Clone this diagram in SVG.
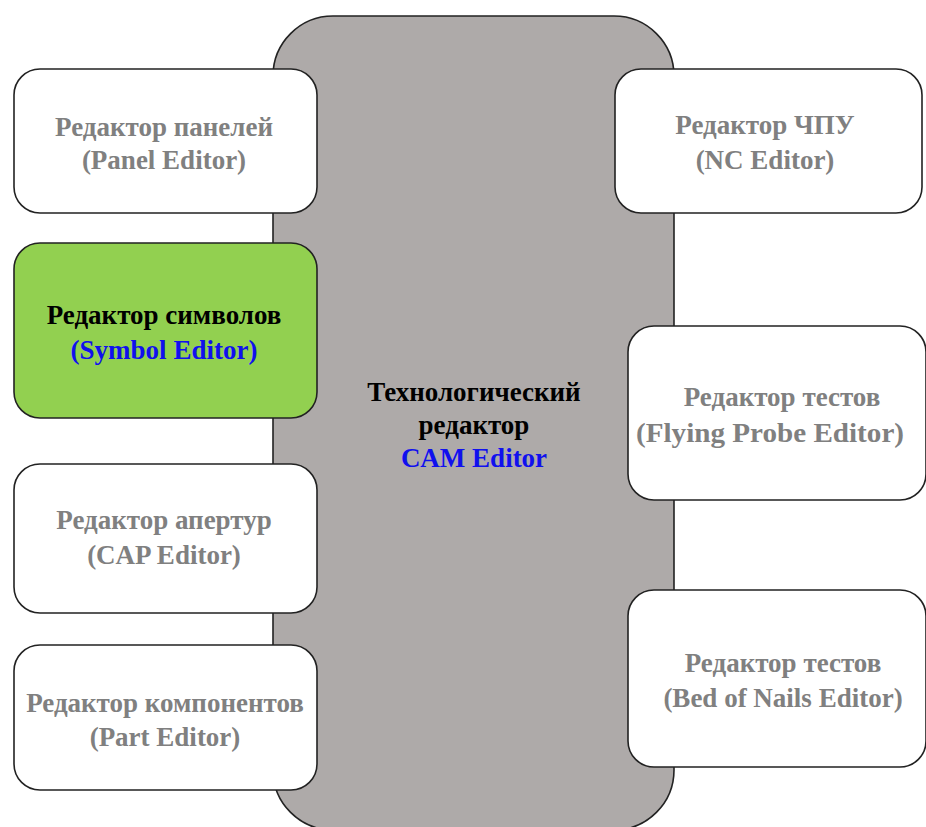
<svg xmlns="http://www.w3.org/2000/svg" width="926" height="827" viewBox="0 0 926 827">
<style>
.box{fill:#ffffff;stroke:#222;stroke-width:1.6}
.green{fill:#92d050}
.main{fill:#aeaaa9;stroke:#222;stroke-width:1.6}
text{font-family:"Liberation Serif","Times New Roman",serif;font-weight:bold;font-size:27px;text-anchor:middle}
.g{fill:#808080}
.k{fill:#000}
.b{fill:#1010ee}
</style>
<rect width="926" height="827" fill="#fff"/>
<g id="cam">
<rect class="main" x="273" y="16" width="401" height="814" rx="60" ry="60"/>
<text class="k" x="474" y="401">Технологический</text>
<text class="k" x="474" y="434">редактор</text>
<text class="b" x="474" y="467">CAM Editor</text>
</g>
<g id="connectors"></g>
<g id="panel">
<rect class="box" x="14" y="69" width="303" height="144" rx="26"/>
<text class="g" x="164" y="136">Редактор панелей</text>
<text class="g" x="164" y="169">(Panel Editor)</text>
</g>
<g id="symbol">
<rect class="box green" x="14" y="243" width="303" height="175" rx="26"/>
<text class="k" x="164" y="324">Редактор символов</text>
<text class="b" x="164" y="359">(Symbol Editor)</text>
</g>
<g id="cap">
<rect class="box" x="14" y="464" width="303" height="149" rx="26"/>
<text class="g" x="164" y="529">Редактор апертур</text>
<text class="g" x="164" y="564">(CAP Editor)</text>
</g>
<g id="part">
<rect class="box" x="14" y="645" width="303" height="145" rx="26"/>
<text class="g" x="165" y="712">Редактор компонентов</text>
<text class="g" x="165" y="746">(Part Editor)</text>
</g>
<g id="nc">
<rect class="box" x="615" y="69" width="307" height="144" rx="26"/>
<text class="g" x="765" y="134">Редактор ЧПУ</text>
<text class="g" x="765" y="169">(NC Editor)</text>
</g>
<g id="flying">
<rect class="box" x="628" y="326" width="298" height="174" rx="26"/>
<text class="g" x="782" y="406">Редактор тестов</text>
<text class="g" x="770" y="442" textLength="268" lengthAdjust="spacingAndGlyphs">(Flying Probe Editor)</text>
</g>
<g id="bed">
<rect class="box" x="628" y="590" width="298" height="177" rx="26"/>
<text class="g" x="783" y="672">Редактор тестов</text>
<text class="g" x="783" y="707">(Bed of Nails Editor)</text>
</g>
</svg>
